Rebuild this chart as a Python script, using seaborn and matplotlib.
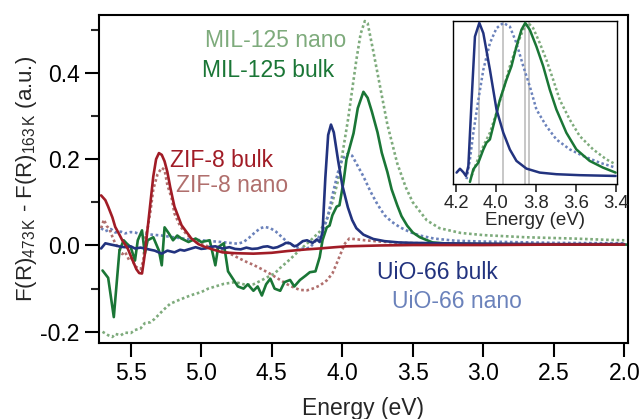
import matplotlib
matplotlib.use("Agg")
import matplotlib.pyplot as plt
import seaborn as sns
import pandas as pd

# ---------------- main plot data (energy in eV, signal in a.u.) ----------------
uio_bulk_E = [5.71,5.68,5.64,5.61,5.57,5.54,5.50,5.47,5.43,5.40,5.36,5.33,5.28,5.24,5.19,5.15,5.12,5.08,5.04,5.00,
              4.97,4.93,4.90,4.85,4.80,4.76,4.72,4.68,4.64,4.60,4.56,4.53,4.49,4.46,4.42,4.40,4.37,4.34,4.32,4.28,
              4.25,4.21,4.18,4.16,4.14,4.12,4.10,4.08,4.06,4.03,4.00,3.96,3.93,3.90,3.85,3.78,3.70,3.60,3.50,3.30,
              3.00,2.50,2.00]
uio_bulk_y = [-0.007,0.005,0.002,0.0,-0.003,-0.004,-0.002,-0.007,-0.005,-0.007,-0.010,-0.012,-0.019,-0.012,-0.016,-0.010,-0.012,-0.008,-0.004,-0.008,
              -0.007,-0.003,-0.002,-0.007,-0.004,-0.008,-0.009,-0.005,-0.008,-0.007,-0.003,-0.002,-0.006,-0.004,0.002,0.006,0.005,-0.002,0.000,0.010,
              0.012,0.006,0.014,0.008,0.030,0.157,0.256,0.280,0.262,0.198,0.140,0.088,0.059,0.040,0.025,0.015,0.010,0.007,0.006,0.005,
              0.004,0.003,0.003]

uio_nano_E = [5.71,5.68,5.64,5.61,5.57,5.54,5.50,5.47,5.43,5.40,5.35,5.28,5.22,5.15,5.08,5.00,4.93,4.86,4.80,4.74,
              4.70,4.66,4.62,4.58,4.55,4.51,4.47,4.43,4.39,4.35,4.31,4.27,4.23,4.19,4.16,4.14,4.10,4.07,4.03,4.00,
              3.96,3.93,3.90,3.85,3.80,3.75,3.70,3.65,3.59,3.52,3.45,3.35,3.20,3.00,2.50,2.00]
uio_nano_y = [0.040,0.033,0.038,0.030,0.032,0.028,0.031,0.030,0.026,0.027,0.025,0.023,0.020,0.017,0.014,0.012,0.010,0.008,0.006,0.004,
              0.008,0.018,0.030,0.040,0.043,0.040,0.032,0.020,0.008,0.000,-0.006,-0.008,-0.005,0.010,0.022,0.030,0.070,0.116,0.170,0.200,
              0.213,0.208,0.190,0.160,0.125,0.095,0.070,0.055,0.042,0.031,0.023,0.016,0.011,0.009,0.006,0.005]

mil_bulk_E = [5.70,5.66,5.62,5.59,5.58,5.55,5.53,5.50,5.47,5.45,5.42,5.40,5.38,5.34,5.30,5.28,5.26,5.23,5.20,5.17,
              5.14,5.09,5.04,5.00,4.94,4.90,4.88,4.84,4.81,4.77,4.74,4.70,4.67,4.63,4.60,4.57,4.54,4.51,4.48,4.44,
              4.41,4.37,4.34,4.30,4.26,4.23,4.19,4.16,4.14,4.11,4.09,4.07,4.04,4.02,3.99,3.97,3.92,3.89,3.85,3.82,
              3.79,3.75,3.72,3.68,3.65,3.61,3.58,3.54,3.50,3.45,3.36,3.24,2.88,1.98]
mil_bulk_y = [-0.058,-0.075,-0.166,-0.05,-0.012,0.012,0.005,-0.004,-0.035,0.012,0.035,-0.019,0.012,0.019,-0.012,-0.046,0.042,0.028,0.012,0.023,
              0.016,0.008,0.016,0.008,0.012,-0.046,-0.004,0.005,-0.06,-0.08,-0.095,-0.10,-0.09,-0.105,-0.095,-0.116,-0.09,-0.077,-0.10,-0.105,
              -0.085,-0.08,-0.095,-0.08,-0.07,-0.062,-0.06,-0.027,0.012,0.042,0.046,0.07,0.09,0.093,0.15,0.20,0.26,0.318,0.356,0.342,
              0.31,0.262,0.215,0.17,0.13,0.093,0.068,0.046,0.03,0.019,0.007,0.004,0.003,0.002]

mil_nano_E = [5.70,5.66,5.63,5.61,5.57,5.54,5.50,5.47,5.43,5.40,5.36,5.33,5.27,5.22,5.17,5.11,5.06,5.00,4.95,4.89,
              4.84,4.80,4.76,4.72,4.68,4.63,4.58,4.54,4.48,4.44,4.37,4.30,4.23,4.16,4.11,4.07,4.03,4.00,3.96,3.93,
              3.90,3.87,3.84,3.82,3.78,3.73,3.68,3.61,3.55,3.50,3.40,3.31,3.16,3.00,2.70,2.36,2.12,2.00]
mil_nano_y = [-0.200,-0.208,-0.212,-0.205,-0.208,-0.202,-0.203,-0.196,-0.192,-0.180,-0.178,-0.170,-0.150,-0.135,-0.128,-0.120,-0.114,-0.108,-0.100,-0.094,
              -0.089,-0.087,-0.085,-0.088,-0.092,-0.090,-0.082,-0.075,-0.065,-0.052,-0.032,-0.010,0.010,0.032,0.060,0.100,0.150,0.210,0.290,0.360,
              0.430,0.490,0.520,0.515,0.450,0.365,0.280,0.190,0.135,0.100,0.058,0.040,0.029,0.024,0.019,0.016,0.013,0.012]

zif_bulk_E = [5.71,5.68,5.66,5.63,5.61,5.58,5.56,5.52,5.49,5.46,5.44,5.42,5.40,5.38,5.36,5.34,5.32,5.30,5.28,5.26,
              5.24,5.22,5.19,5.14,5.07,5.02,4.97,4.90,4.85,4.75,4.63,4.50,4.39,4.25,4.16,4.05,3.97,3.85,3.73,3.50,
              3.00,2.50,2.00]
zif_bulk_y = [0.116,0.105,0.090,0.065,0.043,0.025,0.012,-0.008,-0.032,-0.055,-0.064,-0.065,-0.020,0.040,0.100,0.160,0.200,0.214,0.210,0.195,
              0.170,0.135,0.090,0.047,0.016,0.003,-0.004,-0.011,-0.016,-0.018,-0.019,-0.017,-0.013,-0.009,-0.007,-0.004,-0.002,-0.001,0.000,0.001,
              0.001,0.002,0.002]

zif_nano_E = [5.71,5.69,5.67,5.65,5.63,5.61,5.58,5.56,5.54,5.51,5.49,5.47,5.45,5.43,5.41,5.40,5.38,5.36,5.34,5.31,
              5.28,5.26,5.24,5.21,5.19,5.15,5.11,5.04,4.97,4.90,4.85,4.79,4.73,4.68,4.63,4.57,4.51,4.45,4.39,4.34,
              4.30,4.25,4.21,4.16,4.11,4.07,4.04,4.01,3.98,3.95,3.89,3.84,3.73,3.59,3.24,2.60,2.00]
zif_nano_y = [0.040,0.060,0.045,0.038,0.020,0.005,-0.010,-0.020,-0.015,-0.035,-0.030,-0.048,-0.052,-0.055,-0.035,0.012,0.040,0.080,0.130,0.165,
              0.180,0.175,0.140,0.110,0.074,0.045,0.028,0.008,0.000,-0.008,-0.012,-0.020,-0.030,-0.038,-0.045,-0.055,-0.066,-0.078,-0.090,-0.098,
              -0.103,-0.104,-0.100,-0.093,-0.081,-0.065,-0.042,-0.018,0.005,0.016,0.014,0.012,0.009,0.006,0.004,0.003,0.003]

# ---------------- inset data (normalised) ----------------
in_uio_bulk_E = [4.197,4.18,4.163,4.15,4.138,4.12,4.105,4.083,4.063,4.03,3.997,3.963,3.93,3.897,3.847,3.78,3.697,3.58,3.40]
in_uio_bulk_y = [0.066,0.09,0.068,0.045,0.107,0.56,0.915,1.0,0.936,0.708,0.46,0.315,0.21,0.139,0.091,0.066,0.056,0.05,0.045]
in_uio_nano_E = [4.147,4.13,4.113,4.088,4.063,4.03,3.997,3.963,3.93,3.897,3.863,3.83,3.797,3.747,3.697,3.63,3.563,3.48,3.40]
in_uio_nano_y = [0.025,0.149,0.315,0.52,0.708,0.874,0.967,1.0,0.977,0.874,0.73,0.604,0.46,0.356,0.273,0.211,0.17,0.128,0.097]
in_mil_bulk_E = [4.13,4.113,4.088,4.063,4.047,4.03,4.005,3.98,3.947,3.922,3.897,3.872,3.853,3.83,3.797,3.763,3.73,3.697,3.647,3.597,3.53,3.463,3.40]
in_mil_bulk_y = [0.008,0.087,0.128,0.21,0.253,0.273,0.397,0.52,0.646,0.73,0.853,0.957,1.0,0.957,0.853,0.73,0.584,0.46,0.315,0.211,0.139,0.097,0.066]
in_mil_nano_E = [4.122,4.097,4.063,4.03,3.997,3.963,3.93,3.897,3.863,3.838,3.813,3.78,3.747,3.713,3.68,3.63,3.58,3.513,3.447,3.40]
in_mil_nano_y = [0.045,0.128,0.232,0.315,0.439,0.584,0.73,0.853,0.957,1.0,0.967,0.874,0.77,0.646,0.52,0.397,0.294,0.211,0.149,0.118]
inset_peaks = [4.083, 3.963, 3.855, 3.835]

main_xticks = [5.5, 5.0, 4.5, 4.0, 3.5, 3.0, 2.5, 2.0]
main_yticks = [-0.2, 0.0, 0.2, 0.4]
main_yminor = [-0.1, 0.1, 0.3, 0.5]
inset_xticks = [4.2, 4.0, 3.8, 3.6, 3.4]

# ---------------- style ----------------
sns.set_style("ticks")
plt.rcParams['font.family'] = ['Liberation Sans', 'DejaVu Sans']
plt.rcParams['mathtext.fontset'] = 'custom'
plt.rcParams['mathtext.rm'] = 'Liberation Sans'
plt.rcParams['mathtext.it'] = 'Liberation Sans:italic'
plt.rcParams['axes.unicode_minus'] = False

C_UIO_B = '#22337f'
C_UIO_N = '#6b82bb'
C_MIL_B = '#1a7636'
C_MIL_N = '#7eab7c'
C_ZIF_B = '#a11c26'
C_ZIF_N = '#b06f6d'
DOT = (0, (1, 1))
LW = 1.9

fig = plt.figure(figsize=(6.43, 4.19), dpi=100)
ax = fig.add_axes([0.1544, 0.1814, 0.8218, 0.7828])

series = [
    (mil_nano_E, mil_nano_y, C_MIL_N, DOT),
    (uio_nano_E, uio_nano_y, C_UIO_N, DOT),
    (zif_nano_E, zif_nano_y, C_ZIF_N, DOT),
    (mil_bulk_E, mil_bulk_y, C_MIL_B, '-'),
    (uio_bulk_E, uio_bulk_y, C_UIO_B, '-'),
    (zif_bulk_E, zif_bulk_y, C_ZIF_B, '-'),
]
for E, y, c, ls in series:
    df = pd.DataFrame({'E': E, 'y': y})
    sns.lineplot(data=df, x='E', y='y', ax=ax, color=c, linestyle=ls, lw=LW,
                 estimator=None, sort=False)

ax.set_xlim(5.723, 1.976)
ax.set_ylim(-0.226, 0.534)
ax.set_xticks(main_xticks)
ax.set_xticklabels([f"{t:.1f}" for t in main_xticks])
ax.set_yticks(main_yticks)
ax.set_yticklabels([f"{t:.1f}" for t in main_yticks])
ax.set_yticks(main_yminor, minor=True)
ax.tick_params(axis='both', which='major', direction='out', length=10, width=1.5,
               labelsize=16.5, colors='black', pad=4)
ax.tick_params(axis='y', which='minor', direction='out', length=6, width=1.5)
ax.tick_params(top=False, right=False)
for s in ax.spines.values():
    s.set_visible(True)
    s.set_linewidth(1.5)
    s.set_color('black')
ax.set_xlabel('Energy (eV)', fontsize=16.5, labelpad=8)
ax.set_ylabel(r'F(R)$_{\mathrm{473\,K}}$ - F(R)$_{\mathrm{163\,K}}$ (a.u.)', fontsize=16, labelpad=1)

labels = [
    ('MIL-125 nano', 4.972, 0.474, C_MIL_N),
    ('MIL-125 bulk', 4.995, 0.405, C_MIL_B),
    ('ZIF-8 bulk', 5.22, 0.198, C_ZIF_B),
    ('ZIF-8 nano', 5.177, 0.140, C_ZIF_N),
    ('UiO-66 bulk', 3.757, -0.062, C_UIO_B),
    ('UiO-66 nano', 3.650, -0.130, C_UIO_N),
]
for txt, x, y, c in labels:
    ax.text(x, y, txt, color=c, fontsize=16.5, ha='left', va='center')

# ---------------- inset ----------------
axi = fig.add_axes([0.7045, 0.5609, 0.2551, 0.389])
axi.set_facecolor('white')
for xp in inset_peaks:
    axi.axvline(xp, color='#bdbdbd', lw=1.2, zorder=1)
inset_series = [
    (in_mil_nano_E, in_mil_nano_y, C_MIL_N, DOT),
    (in_uio_nano_E, in_uio_nano_y, C_UIO_N, DOT),
    (in_mil_bulk_E, in_mil_bulk_y, C_MIL_B, '-'),
    (in_uio_bulk_E, in_uio_bulk_y, C_UIO_B, '-'),
]
for E, y, c, ls in inset_series:
    df = pd.DataFrame({'E': E, 'y': y})
    sns.lineplot(data=df, x='E', y='y', ax=axi, color=c, linestyle=ls, lw=1.8,
                 estimator=None, sort=False, zorder=3)
axi.set_xlim(4.215, 3.393)
axi.set_ylim(-0.005, 1.012)
axi.set_yticks([])
axi.set_xticks(inset_xticks)
axi.set_xticklabels([f"{t:.1f}" for t in inset_xticks])
axi.tick_params(axis='x', direction='out', length=6, width=1.2, labelsize=13.3, pad=2)
axi.set_xlabel('Energy (eV)', fontsize=13.5, labelpad=0)
axi.set_ylabel('')
for s in axi.spines.values():
    s.set_visible(True)
    s.set_linewidth(1.0)
    s.set_color('black')

fig.savefig('out.png', dpi=100)
